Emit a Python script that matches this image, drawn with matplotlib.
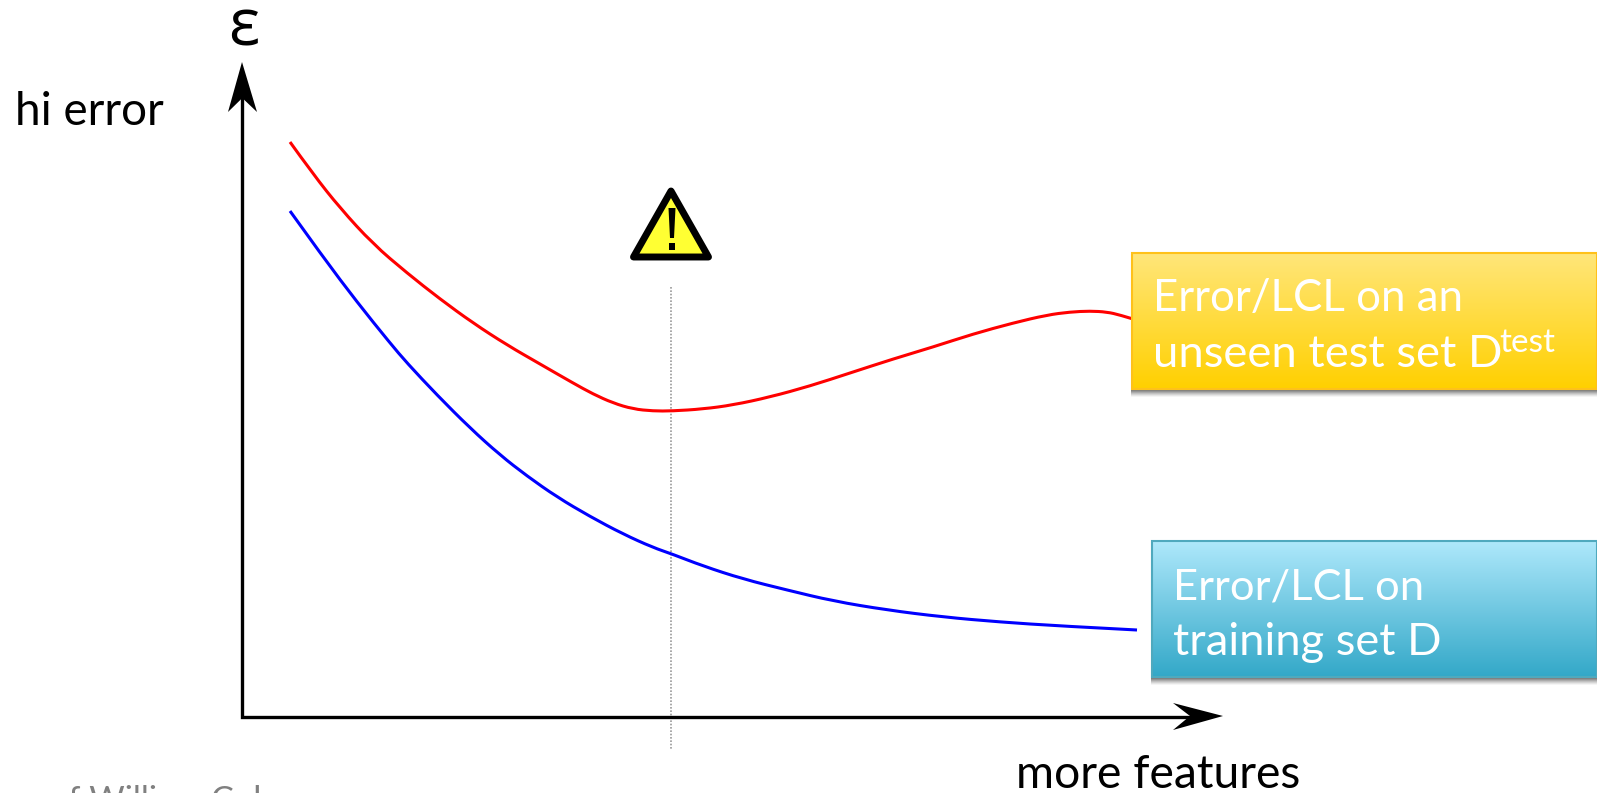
import numpy as np
import matplotlib
matplotlib.use('Agg')
import matplotlib.pyplot as plt
from matplotlib.patches import Polygon, Rectangle, PathPatch
from matplotlib.path import Path

# curves, in image pixels
red_x = [290, 313, 340, 373, 407, 440, 473, 507, 540, 573, 593, 613, 633, 653, 672, 703, 733, 770, 810, 850, 893, 933, 973, 1013, 1047, 1070, 1090, 1107, 1120, 1133]
red_y = [142, 174, 208, 244, 273, 299, 323, 345, 364, 383, 394, 403, 409, 411, 411, 409, 405, 397, 386, 373, 359, 347, 334, 323, 315, 312, 311, 312, 315, 319]
blue_x = [290, 323, 357, 390, 407, 437, 470, 500, 527, 557, 590, 623, 653, 672, 703, 743, 787, 833, 887, 943, 1000, 1060, 1137]
blue_y = [211, 257, 302, 343, 363, 395, 428, 455, 476, 497, 516.5, 534, 547.5, 554, 566, 579, 590, 601, 610, 617, 622, 626, 630]

guide_x = [671, 671]
guide_y = [287, 750]

box_test = [1132, 253, 1597, 389]
box_train = [1152, 541, 1597, 677]


def smooth_curve(ax, xs, ys, color):
    # quadratic segments through midpoints, the given points act as control points
    pts = np.column_stack([xs, ys]).astype(float)
    verts = [pts[0]]
    codes = [Path.MOVETO]
    for i in range(1, len(pts) - 1):
        end = pts[-1] if i == len(pts) - 2 else (pts[i] + pts[i + 1]) / 2
        verts += [pts[i], end]
        codes += [Path.CURVE3, Path.CURVE3]
    ax.add_patch(PathPatch(Path(verts, codes), fc='none', ec=color, lw=2.2, zorder=2))


def gradient_box(ax, box, top, bottom, edge):
    x0, y0, x1, y1 = box
    # soft shadow underneath
    for off, a in [(8, 0.06), (7, 0.09), (6, 0.12), (5, 0.15), (4, 0.2), (3, 0.25), (2, 0.3)]:
        ax.add_patch(Rectangle((x0 - 1, y0 + off), x1 - x0 + 2, y1 - y0, fc='#555555', ec='none', alpha=a, zorder=4))
    c0 = np.array(matplotlib.colors.to_rgb(top))
    c1 = np.array(matplotlib.colors.to_rgb(bottom))
    t = np.linspace(0, 1, 128)[:, None, None]
    img = c0[None, None, :] * (1 - t) + c1[None, None, :] * t
    ax.imshow(img, extent=(x0, x1, y1, y0), aspect='auto', zorder=5, interpolation='bilinear')
    ax.add_patch(Rectangle((x0, y0), x1 - x0, y1 - y0, fc='none', ec=edge, lw=1.5, zorder=6))


fig = plt.figure(figsize=(15.97, 7.93), dpi=100)
ax = fig.add_axes([0, 0, 1, 1])
ax.set_xlim(0, 1597)
ax.set_ylim(793, 0)
ax.axis('off')

ax.plot(guide_x, guide_y, color='#999999', lw=1.2, ls=(0, (1, 1)), zorder=1)
smooth_curve(ax, red_x, red_y, '#FF0000')
smooth_curve(ax, blue_x, blue_y, '#0000FF')

# axes with stealth arrow heads
ax.plot([242.3, 242.3, 1195], [90, 716.5, 716.5], color='black', lw=2.4, zorder=3, solid_joinstyle='miter')
ax.add_patch(Polygon([(242, 62), (257, 112), (242.3, 98), (228, 112)], fc='black', ec='none', zorder=3))
ax.add_patch(Polygon([(1223, 716), (1173, 730), (1190, 716), (1173, 703)], fc='black', ec='none', zorder=3))

# warning sign
ax.add_patch(Polygon([(671, 191), (708.5, 257), (633.5, 257)], fc='#FFFF33', ec='black', lw=5, joinstyle='round', zorder=3))
ax.add_patch(Polygon([(668.5, 208), (675.5, 208), (674, 238), (670, 238)], fc='black', ec='none', zorder=4))
ax.add_patch(Rectangle((669, 243), 6, 7, fc='black', ec='none', zorder=4))

gradient_box(ax, box_test, '#FFE67A', '#FFD000', '#FFC11A')
gradient_box(ax, box_train, '#AEE8FB', '#33A8C8', '#4FA9BE')

font = 'Lato'
ax.text(15, 125, 'hi error', fontsize=33, family=font, color='black', va='baseline')
ax.text(244, 45, 'ε', fontsize=47, family='Open Sans', color='black', ha='center', va='baseline')
ax.text(1016, 788, 'more features', fontsize=33.3, family=font, color='black', va='baseline')
# the source crop cuts this line off at the bottom edge
ax.text(49, 811, 'of William Cohen', fontsize=24.7, family=font, color='#808080', va='baseline')

ax.text(1153, 311, 'Error/LCL on an', fontsize=31.5, family=font, color='white', va='baseline', zorder=7)
ax.text(1153, 367, 'unseen test set D', fontsize=32.7, family=font, color='white', va='baseline', zorder=7)
ax.text(1499, 352, 'test', fontsize=24, family=font, color='white', va='baseline', zorder=7)
ax.text(1173, 599, 'Error/LCL on', fontsize=31.3, family=font, color='white', va='baseline', zorder=7)
ax.text(1173, 655, 'training set D', fontsize=32.6, family=font, color='white', va='baseline', zorder=7)

fig.savefig('out.png', dpi=100)
